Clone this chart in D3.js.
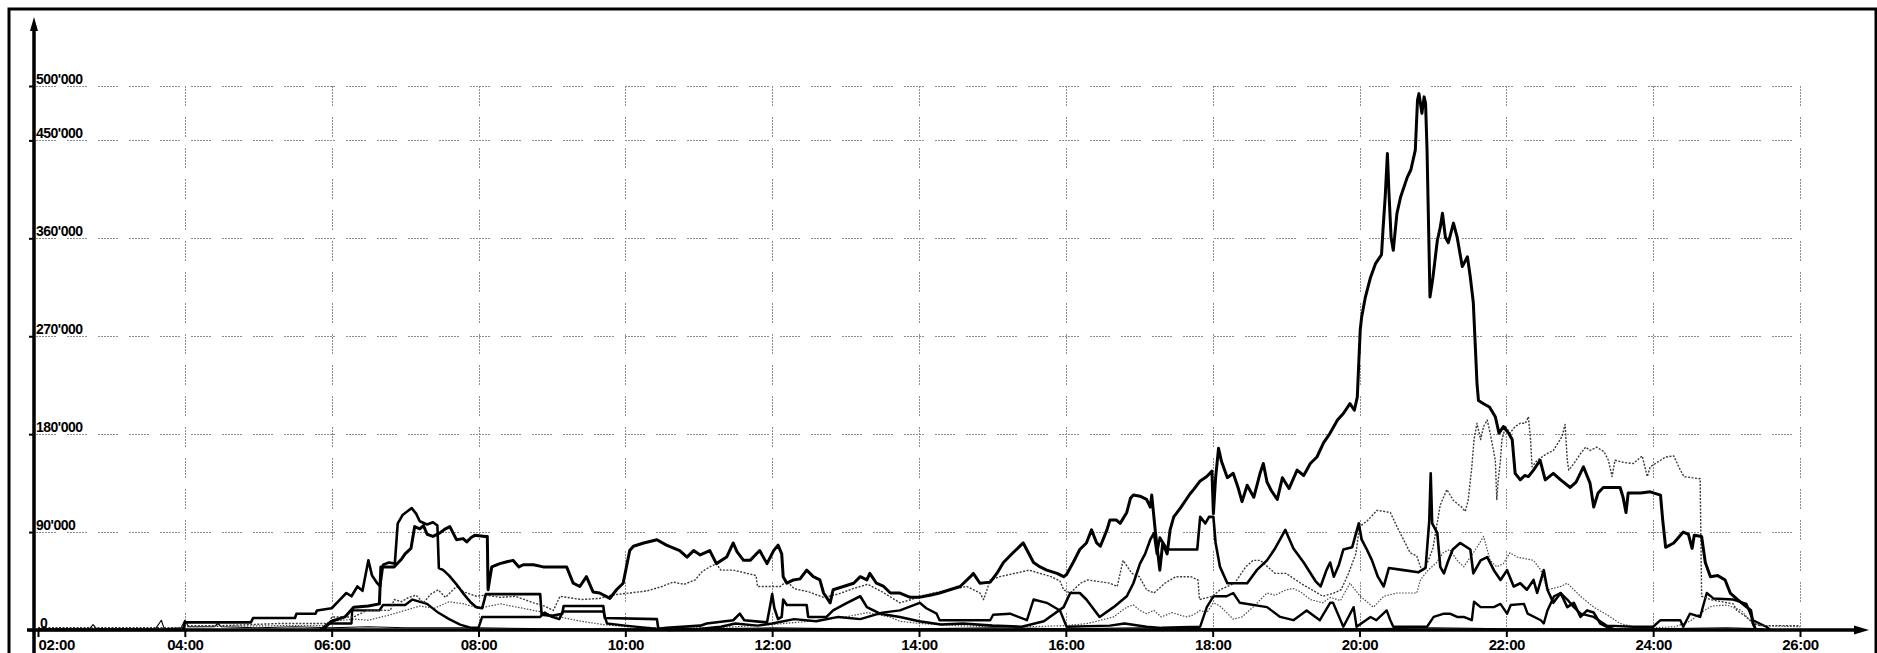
<!DOCTYPE html>
<html>
<head>
<meta charset="utf-8">
<script src="https://cdn.jsdelivr.net/npm/d3@7"></script>
<style>
  html, body { margin: 0; padding: 0; background: #fff; }
  svg { display: block; }
  .tick text { font-family: "Liberation Sans", Arial, sans-serif; font-weight: bold; fill: #000; }
</style>
</head>
<body>
<svg id="chart" width="1877" height="653"></svg>
<script>
// Time axis: hours since midnight (values past 24 continue into the next day)
const xTicks = [2, 4, 6, 8, 10, 12, 14, 16, 18, 20, 22, 24, 26];
const xTickLabels = ["02:00", "04:00", "06:00", "08:00", "10:00", "12:00", "14:00",
                     "16:00", "18:00", "20:00", "22:00", "24:00", "26:00"];

// Value axis, in thousands
const yTicks = [0, 90, 180, 270, 360, 450, 500];
const yTickLabels = ["0", "90'000", "180'000", "270'000", "360'000", "450'000", "500'000"];

// Series: [hour, value in thousands]
const seriesA = [
  [5.85,0],[6.0,8],[6.18,12],[6.3,21],[6.5,22],[6.65,24],[6.67,58],[6.85,58],[6.95,65],[7.0,70],
  [7.08,75],[7.13,95],[7.2,93],[7.25,96],[7.3,88],[7.38,86],[7.47,89],[7.55,93],[7.61,95],[7.7,83],
  [7.79,84],[7.84,81],[7.9,85],[7.95,87],[8.09,86],[8.12,86],[8.13,37],[8.18,58],[8.29,61],[8.4,63],
  [8.47,64],[8.55,58],[8.61,60],[8.75,60],[8.88,58],[9.2,58],[9.29,43],[9.38,40],[9.47,49],[9.56,35],
  [9.65,34],[9.79,29],[9.88,37],[9.97,43],[10.06,73],[10.11,77],[10.25,80],[10.43,83],[10.56,78],[10.74,73],
  [10.84,67],[10.93,73],[11.02,69],[11.15,73],[11.24,61],[11.38,67],[11.47,80],[11.52,72],[11.61,64],[11.7,64],
  [11.83,73],[11.93,61],[12.02,73],[12.08,78],[12.13,70],[12.15,49],[12.2,43],[12.29,46],[12.38,47],[12.47,55],
  [12.56,49],[12.65,46],[12.7,34],[12.79,25],[12.83,37],[12.97,40],[13.11,43],[13.2,49],[13.29,46],[13.33,52],
  [13.42,43],[13.52,40],[13.61,34],[13.74,34],[13.88,30],[14.0,30],[14.15,32],[14.28,34],[14.42,37],[14.56,40],
  [14.7,49],[14.74,52],[14.83,43],[14.97,44],[15.06,52],[15.15,62],[15.28,71],[15.42,80],[15.49,71],[15.56,62],
  [15.65,58],[15.74,55],[15.88,52],[15.97,49],[16.01,51],[16.1,62],[16.19,74],[16.28,80],[16.35,92],[16.42,80],
  [16.47,77],[16.56,92],[16.6,101],[16.69,101],[16.74,98],[16.83,108],[16.88,121],[16.92,124],[17.01,123],[17.1,120],
  [17.15,113],[17.17,124],[17.22,90],[17.28,55],[17.32,80],[17.38,70],[17.42,92],[17.47,104],[17.56,112],[17.69,125],
  [17.74,129],[17.83,137],[17.92,141],[17.99,146],[18.01,107],[18.04,140],[18.08,167],[18.12,155],[18.2,140],[18.28,144],
  [18.35,130],[18.4,118],[18.47,133],[18.56,122],[18.65,145],[18.69,153],[18.74,136],[18.8,128],[18.88,120],[18.95,140],
  [19.04,130],[19.15,147],[19.24,142],[19.33,153],[19.42,159],[19.51,172],[19.6,181],[19.7,193],[19.78,199],[19.87,208],
  [19.93,202],[19.97,214],[19.99,245],[20.01,276],[20.03,288],[20.08,306],[20.15,324],[20.22,337],[20.28,343],[20.3,345],
  [20.32,368],[20.35,398],[20.38,438],[20.4,404],[20.43,361],[20.46,349],[20.51,383],[20.56,398],[20.65,416],[20.7,423],
  [20.76,441],[20.79,487],[20.81,493],[20.85,475],[20.88,490],[20.9,484],[20.92,441],[20.94,374],[20.96,306],[21.0,324],
  [21.06,358],[21.1,370],[21.13,383],[21.17,361],[21.21,356],[21.28,374],[21.33,361],[21.4,334],[21.47,343],[21.51,324],
  [21.55,301],[21.58,257],[21.6,227],[21.62,211],[21.69,208],[21.77,205],[21.85,196],[21.9,181],[21.96,187],[22.03,181],
  [22.08,175],[22.12,144],[22.19,138],[22.25,142],[22.3,141],[22.37,147],[22.46,156],[22.53,138],[22.64,144],[22.74,138],
  [22.87,131],[22.95,136],[23.05,150],[23.14,135],[23.19,113],[23.25,126],[23.32,131],[23.55,131],[23.59,122],[23.63,108],
  [23.66,126],[23.83,126],[23.96,127],[24.1,124],[24.13,101],[24.17,76],[24.28,80],[24.41,90],[24.48,88],[24.53,75],
  [24.56,87],[24.66,86],[24.71,62],[24.78,49],[24.88,50],[24.98,46],[25.05,34],[25.15,28],[25.33,18],[25.36,6],[25.4,0]
];

const seriesB = [
  [2,2],[3.98,2],[4.0,4],[4.5,4],[5.3,6],[5.97,6],[6.0,12],[6.3,12],[6.48,18],[6.8,18],
  [6.85,28],[6.95,26],[7.05,30],[7.15,32],[7.25,25],[7.35,33],[7.45,37],[7.55,30],[7.7,40],[7.8,35],
  [7.97,31],[8.1,32],[8.3,30],[8.5,31],[8.75,25],[8.9,22],[9.02,18],[9.11,31],[9.4,28],[9.65,29],
  [9.8,32],[10.06,34],[10.3,36],[10.5,40],[10.65,44],[10.8,42],[10.95,46],[11.05,54],[11.15,58],[11.24,61],
  [11.3,55],[11.47,55],[11.6,53],[11.78,50],[11.8,40],[12.11,40],[12.2,45],[12.3,38],[12.5,35],[12.7,30],
  [12.9,33],[13.1,38],[13.3,42],[13.5,35],[13.74,25],[13.9,28],[14.0,31],[14.2,34],[14.42,37],[14.65,40],
  [14.83,34],[14.88,28],[14.97,46],[15.1,49],[15.3,52],[15.5,55],[15.65,52],[15.8,49],[15.92,45],[15.97,37],
  [16.06,34],[16.2,43],[16.3,46],[16.4,45],[16.6,43],[16.7,40],[16.78,64],[16.9,52],[17.0,49],[17.1,37],
  [17.2,34],[17.35,43],[17.5,49],[17.7,49],[17.8,46],[17.82,28],[18.0,31],[18.1,37],[18.3,43],[18.45,58],
  [18.55,64],[18.65,64],[18.85,52],[19.0,52],[19.2,43],[19.35,37],[19.5,31],[19.65,34],[19.75,37],[19.85,52],
  [19.95,70],[20.0,95],[20.1,100],[20.24,110],[20.42,108],[20.51,95],[20.6,83],[20.69,71],[20.78,68],[20.83,58],
  [20.87,55],[20.92,61],[21.0,75],[21.1,115],[21.19,129],[21.28,119],[21.39,113],[21.44,109],[21.48,119],[21.53,150],
  [21.56,175],[21.6,190],[21.65,175],[21.69,187],[21.74,193],[21.78,181],[21.85,156],[21.87,120],[21.89,138],[21.92,156],
  [21.94,175],[21.99,187],[22.05,181],[22.12,187],[22.19,190],[22.26,190],[22.3,196],[22.33,175],[22.35,150],[22.42,156],
  [22.55,162],[22.64,165],[22.76,178],[22.8,189],[22.83,156],[22.85,147],[22.92,153],[23.01,162],[23.08,168],[23.14,165],
  [23.23,168],[23.33,164],[23.39,156],[23.44,141],[23.48,156],[23.6,154],[23.73,153],[23.85,160],[23.92,141],[23.96,150],
  [24.1,156],[24.17,159],[24.28,160],[24.37,147],[24.42,141],[24.64,139],[24.66,31],[24.78,28],[25.09,24],[25.14,18],
  [25.27,12],[25.36,6],[25.45,4],[26,4]
];

const seriesC = [
  [2,0],[3.98,0],[4.0,7],[4.9,7],[4.93,11],[5.5,11],[5.52,15],[5.78,15],[5.8,18],[6.0,20],
  [6.1,27],[6.2,34],[6.27,31],[6.35,40],[6.42,36],[6.5,64],[6.55,50],[6.62,43],[6.66,40],[6.7,60],
  [6.78,62],[6.86,61],[6.9,98],[6.97,106],[7.05,110],[7.09,112],[7.15,107],[7.2,100],[7.3,97],[7.38,99],
  [7.44,96],[7.46,57],[7.52,55],[7.6,50],[7.7,42],[7.8,33],[7.9,25],[7.97,21],[8.05,20],[8.1,33],
  [8.84,33],[8.86,14],[9.0,13],[9.14,15],[9.16,22],[9.7,22],[9.72,11],[10.43,10],[10.45,1],[10.56,2],
  [11.02,4],[11.11,6],[11.47,9],[11.56,15],[11.62,9],[11.93,7],[11.98,25],[12.0,33],[12.03,20],[12.08,10],
  [12.13,12],[12.15,28],[12.2,23],[12.47,23],[12.49,12],[12.74,12],[12.83,18],[13.02,25],[13.2,31],[13.29,21],
  [13.47,15],[13.74,12],[14.0,8],[14.3,5],[14.6,6],[15.0,4],[15.4,3],[15.7,8],[15.97,21],[16.06,34],
  [16.19,34],[16.28,28],[16.46,12],[16.65,21],[16.83,31],[16.92,43],[17.01,61],[17.08,70],[17.15,83],[17.2,89],
  [17.24,70],[17.28,85],[17.38,74],[17.6,74],[17.79,74],[17.83,104],[17.9,98],[17.95,104],[18.01,104],[18.04,80],
  [18.1,58],[18.2,43],[18.47,43],[18.6,55],[18.74,64],[18.85,75],[18.99,92],[19.1,75],[19.24,62],[19.4,45],
  [19.47,40],[19.55,55],[19.6,62],[19.65,49],[19.72,60],[19.78,74],[19.9,76],[19.99,98],[20.03,83],[20.1,74],
  [20.17,64],[20.25,49],[20.33,40],[20.4,57],[20.6,55],[20.8,53],[20.9,57],[20.95,100],[20.97,144],[20.99,98],
  [21.06,89],[21.1,58],[21.15,52],[21.2,62],[21.27,74],[21.37,80],[21.51,74],[21.55,52],[21.65,64],[21.74,67],
  [21.83,55],[21.92,46],[22.01,55],[22.1,40],[22.19,43],[22.28,37],[22.37,46],[22.42,34],[22.51,55],[22.56,37],
  [22.64,25],[22.74,34],[22.83,21],[22.92,25],[23.01,12],[23.1,18],[23.19,16],[23.28,6],[23.37,3],[23.5,0]
];

const seriesD = [
  [5.9,0],[5.95,6],[6.27,6],[6.28,18],[6.65,18],[6.7,23],[7.0,23],[7.1,28],[7.3,24],[7.45,16],
  [7.6,10],[7.75,5],[7.9,2],[8.0,2],[8.05,12],[8.84,12],[8.9,16],[9.0,12],[9.1,10],[9.15,17],
  [9.7,17],[9.75,6],[10.0,4],[10.3,2],[10.6,0],[11.0,1],[11.3,3],[11.5,6],[11.8,4],[12.0,6],
  [12.3,10],[12.6,8],[12.9,12],[13.2,10],[13.5,16],[13.74,18],[14.01,25],[14.1,20],[14.24,15],[14.28,9],
  [14.97,9],[15.01,14],[15.24,15],[15.47,9],[15.56,28],[15.74,25],[15.92,18],[16.01,3],[16.6,4],[16.8,6],
  [17.1,3],[17.3,2],[17.83,3],[17.92,21],[18.01,31],[18.19,31],[18.28,34],[18.37,25],[18.74,21],[18.92,12],
  [19.1,9],[19.28,18],[19.46,9],[19.6,25],[19.64,25],[19.78,3],[19.92,21],[19.96,3],[20.15,12],[20.23,9],
  [20.37,18],[20.42,9],[20.46,3],[20.92,3],[21.01,12],[21.15,15],[21.23,15],[21.33,12],[21.42,12],[21.53,9],
  [21.56,26],[21.65,21],[21.83,21],[21.92,24],[22.01,15],[22.06,23],[22.24,24],[22.29,15],[22.47,9],[22.51,6],
  [22.56,18],[22.65,31],[22.74,34],[22.83,28],[22.92,21],[23.01,15],[23.19,12],[23.37,4],[23.73,3],[24.0,3],
  [24.1,9],[24.37,9],[24.41,3],[24.5,15],[24.64,12],[24.73,34],[24.82,29],[25.09,28],[25.27,24],[25.36,9],
  [25.54,3],[25.6,0]
];

const seriesE = [
  [2,1],[4.0,1],[4.02,3],[5.3,4],[5.97,4],[6.0,8],[6.3,10],[6.5,9],[6.8,14],[7.0,18],
  [7.2,22],[7.4,20],[7.6,26],[7.8,24],[8.0,20],[8.3,24],[8.6,20],[8.9,16],[9.1,12],[9.4,8],
  [9.7,5],[10.0,3],[10.5,2],[11.0,2],[11.5,3],[12.0,5],[12.5,8],[13.0,12],[13.3,16],[13.6,12],
  [13.74,8],[14.0,6],[14.5,4],[15.0,3],[15.5,3],[16.0,4],[16.3,6],[16.65,12],[16.83,21],[16.92,23],
  [17.01,18],[17.1,15],[17.2,18],[17.3,12],[17.45,16],[17.54,14],[17.65,12],[17.74,14],[17.83,18],[17.92,16],
  [18.01,25],[18.1,22],[18.19,16],[18.28,10],[18.4,12],[18.55,21],[18.74,34],[18.85,32],[19.0,37],[19.1,38],
  [19.2,35],[19.33,28],[19.5,25],[19.6,30],[19.74,27],[19.87,43],[20.01,31],[20.19,21],[20.33,31],[20.51,34],
  [20.78,34],[20.83,46],[20.92,54],[21.05,62],[21.14,71],[21.23,74],[21.33,64],[21.42,58],[21.51,67],[21.6,76],
  [21.69,86],[21.78,64],[21.87,58],[21.96,61],[22.05,71],[22.15,67],[22.37,64],[22.47,55],[22.56,37],[22.74,40],
  [22.83,43],[23.01,31],[23.19,21],[23.37,14],[23.55,6],[23.73,3],[24.0,2],[24.3,3],[24.5,8],[24.7,18],
  [24.8,22],[25.0,23],[25.2,18],[25.3,10],[25.45,4],[26,3]
];

const seriesF = [
  [2,1],[2.7,1],[2.75,5],[2.8,1],[3.6,1],[3.68,9],[3.72,1],[3.95,2],[4.0,9],[4.05,3],
  [4.4,3],[4.45,6],[4.5,3],[5.0,2],[5.5,3],[6.0,2],[6.5,3],[7.0,2],[8.0,2],[9.0,1],
  [10.0,1],[11.0,1],[12.0,2],[13.0,1],[14.0,1],[15.0,2],[16.0,1],[17.0,2],[18.0,1],[19.0,1],
  [20.0,1],[21.0,2],[22.0,1],[23.0,1],[24.0,1],[25.0,2],[25.5,1]
];

const W = 1877, H = 653;
const svg = d3.select("#chart");

const x = d3.scaleLinear().domain([2, 26]).range([38, 1800]);
const y = d3.scaleLinear().domain([0, 500]).range([630, 86]);

// Outer frame
svg.append("rect")
  .attr("x", 9).attr("y", 9)
  .attr("width", 1867).attr("height", 660)
  .attr("fill", "none").attr("stroke", "#000").attr("stroke-width", 3);

// Grid: dashes built from fine dots
const gridDash = "2,1,2,1,2,1,2,1,2,1,2,1,2,11";
const grid = svg.append("g").attr("stroke", "#8c8c8c").attr("stroke-width", 1)
  .attr("stroke-dasharray", gridDash).attr("fill", "none");
grid.selectAll("line.h").data(yTicks.filter(d => d > 0)).join("line")
  .attr("class", "h")
  .attr("x1", 36).attr("x2", x(26))
  .attr("y1", d => Math.round(y(d)) + 0.5).attr("y2", d => Math.round(y(d)) + 0.5);
grid.selectAll("line.v").data(xTicks.filter(d => d > 2)).join("line")
  .attr("class", "v")
  .attr("x1", d => Math.round(x(d)) + 0.5).attr("x2", d => Math.round(x(d)) + 0.5)
  .attr("y1", y(500)).attr("y2", y(0));

// Series
const line = d3.line().x(d => x(d[0])).y(d => y(d[1])).curve(d3.curveLinear);
const styles = [
  { data: seriesF, stroke: "#000", width: 1.1, dash: null },
  { data: seriesE, stroke: "#4a4a4a", width: 1.2, dash: "1.5,1.5" },
  { data: seriesD, stroke: "#000", width: 2.4, dash: null },
  { data: seriesB, stroke: "#3a3a3a", width: 1.4, dash: "2,1.5" },
  { data: seriesC, stroke: "#000", width: 2.6, dash: null },
  { data: seriesA, stroke: "#000", width: 3, dash: null }
];
svg.append("g").selectAll("path").data(styles).join("path")
  .attr("d", s => line(s.data))
  .attr("fill", "none")
  .attr("stroke", s => s.stroke)
  .attr("stroke-width", s => s.width)
  .attr("stroke-dasharray", s => s.dash)
  .attr("stroke-linejoin", "round");

// Bottom axis: ticks and hour labels
const xAxis = d3.axisBottom(x)
  .tickValues(xTicks)
  .tickFormat((d, i) => xTickLabels[i])
  .tickSize(7).tickSizeOuter(0);
const gx = svg.append("g").attr("transform", "translate(0,630)").call(xAxis);
gx.select(".domain").remove();
gx.selectAll(".tick line").attr("stroke", "#000").attr("stroke-width", 2);
gx.selectAll(".tick text")
  .attr("y", 20).attr("dy", 0)
  .style("font-size", "15px")
  .style("letter-spacing", "-0.4px")
  .attr("text-anchor", (d, i) => i === 0 ? "start" : "middle");

// Left axis: ticks and value labels
const yAxis = d3.axisLeft(y)
  .tickValues(yTicks)
  .tickFormat((d, i) => yTickLabels[i])
  .tickSize(5).tickSizeOuter(0);
const gy = svg.append("g").attr("transform", "translate(34,0)").call(yAxis);
gy.select(".domain").remove();
gy.selectAll(".tick line").attr("stroke", "#000").attr("stroke-width", 2);
gy.selectAll(".tick text")
  .attr("x", (d, i) => i === 0 ? 6 : 2).attr("dy", -3).attr("y", 0)
  .attr("text-anchor", "start")
  .style("font-size", "14px")
  .style("letter-spacing", "-0.5px");

// Axis lines with arrowheads
svg.append("line")
  .attr("x1", 34).attr("x2", 34).attr("y1", 26).attr("y2", H)
  .attr("stroke", "#000").attr("stroke-width", 3.5);
svg.append("path")
  .attr("d", d3.line()([[34, 17], [30, 31], [38, 31]]) + "Z")
  .attr("fill", "#000");
svg.append("line")
  .attr("x1", 27).attr("x2", 1858).attr("y1", 630).attr("y2", 630)
  .attr("stroke", "#000").attr("stroke-width", 3.5);
svg.append("path")
  .attr("d", d3.line()([[1869, 630], [1854, 625.5], [1854, 634.5]]) + "Z")
  .attr("fill", "#000");
</script>
</body>
</html>
